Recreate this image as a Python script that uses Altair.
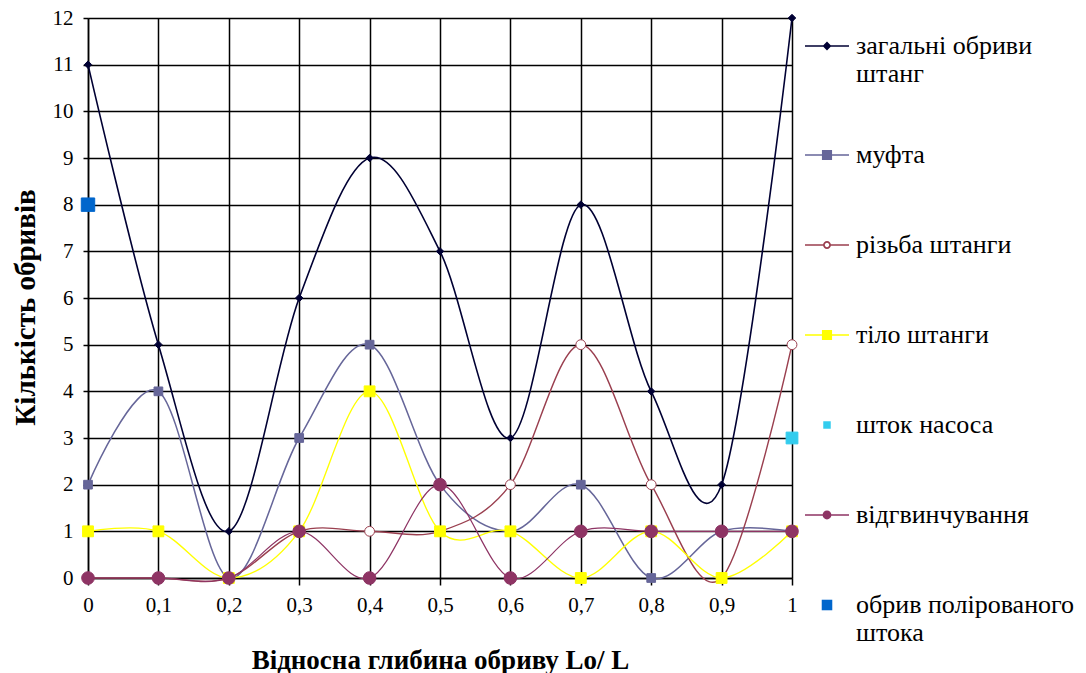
import altair as alt
import pandas as pd

series = ["загальні обриви штанг", "муфта", "різьба штанги", "тіло штанги",
          "шток насоса", "відгвинчування", "обрив полірованого штока"]

x_vals = [0, 0.1, 0.2, 0.3, 0.4, 0.5, 0.6, 0.7, 0.8, 0.9, 1.0]
total = [11, 5, 1, 6, 9, 7, 3, 8, 4, 2, 12]
mufta = [2, 4, 0, 3, 5, 2, 1, 2, 0, 1, 1]
rizba = [0, 0, 0, 1, 1, 1, 2, 5, 2, 0, 5]
tilo = [1, 1, 0, 1, 4, 1, 1, 0, 1, 0, 1]
shtok_x = [1.0]
shtok = [3]
vidgv = [0, 0, 0, 1, 0, 2, 0, 1, 1, 1, 1]
obryv_x = [0]
obryv = [8]

x_ticks = [0, 0.1, 0.2, 0.3, 0.4, 0.5, 0.6, 0.7, 0.8, 0.9, 1.0]
y_ticks = list(range(0, 13))

rows = []
for name, xs, ys in [
    (series[0], x_vals, total),
    (series[1], x_vals, mufta),
    (series[2], x_vals, rizba),
    (series[3], x_vals, tilo),
    (series[4], shtok_x, shtok),
    (series[5], x_vals, vidgv),
    (series[6], obryv_x, obryv),
]:
    for xv, yv in zip(xs, ys):
        rows.append({"x": xv, "y": yv, "s": name})
df = pd.DataFrame(rows)

colors = ["#000033", "#666699", "#9a3f4f", "#FFFF00", "#33CCEE", "#8e3464", "#0066CC"]
fills = ["#000033", "#666699", "#FFFFFF", "#FFFF00", "#33CCEE", "#8e3464", "#0066CC"]
shapes = ["diamond", "square", "circle", "square", "square", "circle", "square"]
sizes = [55, 180, 50, 180, 80, 55, 190]
widths = [1.6, 1.1, 1.1, 1.6, 1.0, 1.1, 1.0]

# legend symbols (unit box -1..1 spans the symbol size)
L = "M-1,-0.035H1V0.035H-1Z"
leg_shapes = [
    L + " M0,-0.2L0.2,0L0,0.2L-0.2,0Z",
    L + " M-0.23,-0.23H0.23V0.23H-0.23Z",
    "M-1,-0.035H-0.17V0.035H-1Z M0.17,-0.035H1V0.035H0.17Z "
    "M0.18,0A0.18,0.18 0 1,1 -0.18,0A0.18,0.18 0 1,1 0.18,0Z "
    "M0.1,0A0.1,0.1 0 1,0 -0.1,0A0.1,0.1 0 1,0 0.1,0Z",
    L + " M-0.23,-0.23H0.23V0.23H-0.23Z",
    "M-0.17,-0.17H0.17V0.17H-0.17Z",
    L + " M0.2,0A0.2,0.2 0 1,1 -0.2,0A0.2,0.2 0 1,1 0.2,0Z",
    "M-0.24,-0.24H0.24V0.24H-0.24Z",
]

FONT = "Liberation Serif"
label_expr = "replace(format(datum.value, '.1~f'), '.', ',')"

x_enc = alt.X("x:Q", scale=alt.Scale(domain=[0, 1], nice=False),
              axis=alt.Axis(values=x_ticks, labelExpr=label_expr, labelFlush=False,
                            title="Відносна глибина обриву Lo/ L",
                            titleY=82, titleBaseline="middle"))
y_enc = alt.Y("y:Q", scale=alt.Scale(domain=[0, 12], nice=False),
              axis=alt.Axis(values=y_ticks, title="Кількість обривів", labelFlush=False,
                            titleX=-63, titleY=289, titleAngle=-90, titleFontSize=29,
                            titleAlign="center", titleBaseline="middle"))

lines = alt.Chart(df).mark_line(interpolate="cardinal", opacity=1).encode(
    x=x_enc, y=y_enc,
    color=alt.Color("s:N", scale=alt.Scale(domain=series, range=colors), legend=None),
    strokeWidth=alt.StrokeWidth("s:N", scale=alt.Scale(domain=series, range=widths), legend=None),
    detail="s:N",
)

points = alt.Chart(df).mark_point(filled=False, opacity=1, strokeWidth=1).encode(
    x="x:Q", y="y:Q",
    shape=alt.Shape("s:N", scale=alt.Scale(domain=series, range=shapes), legend=None),
    fill=alt.Fill("s:N", scale=alt.Scale(domain=series, range=fills), legend=None),
    stroke=alt.Stroke("s:N", scale=alt.Scale(domain=series, range=colors), legend=None),
    size=alt.Size("s:N", scale=alt.Scale(domain=series, range=sizes), legend=None),
)

legend_expr = ("datum.label == 'загальні обриви штанг' ? ['загальні обриви', 'штанг'] : "
               "datum.label == 'обрив полірованого штока' ? ['обрив полірованого', 'штока'] : datum.label")

leg = alt.Legend(title=None, orient="none", legendX=717, legendY=6,
                 symbolSize=1936, symbolStrokeWidth=0, symbolOpacity=1,
                 labelFont=FONT, labelFontSize=26, labelColor="#000000",
                 labelOffset=7, rowPadding=46, clipHeight=44, labelExpr=legend_expr,
                 labelLimit=300, labelBaseline="middle")

legend_layer = alt.Chart(df).transform_filter("false").mark_point(filled=True, opacity=1).encode(
    x="x:Q", y="y:Q",
    color=alt.Color("s:N", scale=alt.Scale(domain=series, range=colors), legend=leg),
    shape=alt.Shape("s:N", scale=alt.Scale(domain=series, range=leg_shapes), legend=leg),
)

chart = alt.layer(lines, points, legend_layer).resolve_scale(
    shape="independent", color="independent", stroke="independent", fill="independent"
).properties(
    width=704, height=560,
    autosize=alt.AutoSizeParams(type="none"),
    padding={"left": 88, "top": 18, "right": 294, "bottom": 95},
).configure(font=FONT).configure_view(stroke=None).configure_axis(
    grid=True, gridColor="#000000", gridWidth=1.5, gridOpacity=1,
    domainColor="#000000", domainWidth=1.5,
    tickColor="#000000", tickWidth=1.5,
    labelFont=FONT, labelFontSize=21, labelColor="#000000",
    titleFont=FONT, titleFontSize=27, titleFontWeight="bold", titleColor="#000000",
).configure_axisX(tickSize=7, labelPadding=9).configure_axisY(tickSize=5, labelPadding=10)

chart.save("out.html", embed_options={"renderer": "svg", "actions": False})
